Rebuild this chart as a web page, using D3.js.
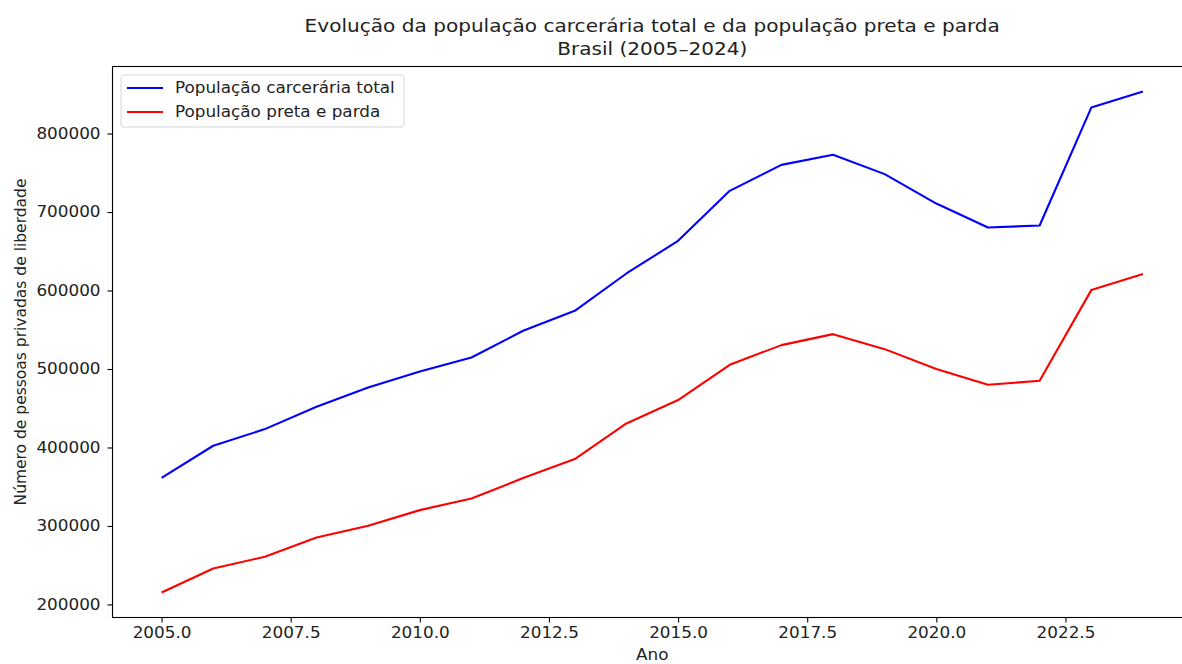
<!DOCTYPE html>
<html>
<head>
<meta charset="utf-8">
<script src="https://cdn.jsdelivr.net/npm/d3@7"></script>
<style>
  body { margin: 0; background: #fff; }
  svg { display: block; font-family: "DejaVu Sans", sans-serif; }
</style>
</head>
<body>
<svg id="chart" width="1182" height="664"></svg>
<script>
// values
const anos = [2005, 2006, 2007, 2008, 2009, 2010, 2011, 2012, 2013, 2014,
              2015, 2016, 2017, 2018, 2019, 2020, 2021, 2022, 2023, 2024];
const total = [361400, 402200, 423400, 451800, 476400, 496800, 514600, 548700, 574100, 621700,
               663300, 727000, 760100, 772900, 748300, 710800, 680300, 682800, 833100, 853500];
const pretaParda = [215300, 245900, 260800, 285400, 300300, 320200, 335000, 361000, 385200, 430600,
                    460400, 505400, 530400, 544400, 525300, 499900, 479900, 485000, 600500, 620900];
const xTicks = [2005, 2007.5, 2010, 2012.5, 2015, 2017.5, 2020, 2022.5];
const yTicks = [200000, 300000, 400000, 500000, 600000, 700000, 800000];
const series = [
  { name: "População carcerária total", values: total, color: "#0000ff" },
  { name: "População preta e parda", values: pretaParda, color: "#ff0000" }
];

const svg = d3.select("#chart");
const mLeft = 112.5, mRight = 1192, mTop = 66.5, mBottom = 617.5;
const stretch = "scale(1.085,1)"; // the reference text is a bit wider than tall

// matplotlib style 5% margins
const xMin = d3.min(anos), xMax = d3.max(anos);
const xPad = (xMax - xMin) * 0.05;
const allY = total.concat(pretaParda);
const yMin = d3.min(allY), yMax = d3.max(allY);
const yPad = (yMax - yMin) * 0.05;

const x = d3.scaleLinear().domain([xMin - xPad, xMax + xPad]).range([mLeft, mRight]);
const y = d3.scaleLinear().domain([yMin - yPad, yMax + yPad]).range([mBottom, mTop]);

// axes
const xAxis = svg.append("g")
  .attr("transform", `translate(0,${mBottom})`)
  .call(d3.axisBottom(x).tickValues(xTicks).tickFormat(d3.format(".1f")).tickSizeOuter(0).tickSize(5).tickPadding(5));
const yAxis = svg.append("g")
  .attr("transform", `translate(${mLeft},0)`)
  .call(d3.axisLeft(y).tickValues(yTicks).tickFormat(d3.format("d")).tickSizeOuter(0).tickSize(5).tickPadding(6));

[xAxis, yAxis].forEach(a => {
  a.select(".domain").remove();
  a.selectAll("line").attr("stroke", "#000").attr("stroke-width", 1.1);
  a.selectAll("text")
    .attr("fill", "#222")
    .attr("transform", stretch)
    .style("font-size", "15.5px")
    .style("font-family", "DejaVu Sans");
});

// spines
svg.append("rect")
  .attr("x", mLeft).attr("y", mTop)
  .attr("width", mRight - mLeft).attr("height", mBottom - mTop)
  .attr("fill", "none").attr("stroke", "#000").attr("stroke-width", 1.1);

// lines
const line = d3.line()
  .x((d, i) => x(anos[i]))
  .y(d => y(d));

svg.append("g").selectAll("path")
  .data(series)
  .enter()
  .append("path")
  .attr("d", d => line(d.values))
  .attr("fill", "none")
  .attr("stroke", d => d.color)
  .attr("stroke-width", 2.1)
  .attr("stroke-linejoin", "round");

// title
const title = svg.append("g")
  .attr("transform", `translate(${(mLeft + mRight) / 2},0) ${stretch}`)
  .append("text")
  .attr("text-anchor", "middle")
  .attr("fill", "#222")
  .style("font-size", "18.5px");
title.append("tspan").attr("x", 0).attr("y", 32)
  .text("Evolução da população carcerária total e da população preta e parda");
title.append("tspan").attr("x", 0).attr("y", 55)
  .text("Brasil (2005–2024)");

// axis labels
svg.append("text")
  .attr("transform", `translate(${(mLeft + mRight) / 2},660) ${stretch}`)
  .attr("text-anchor", "middle")
  .attr("fill", "#222")
  .style("font-size", "15.5px")
  .text("Ano");

svg.append("text")
  .attr("transform", `translate(26,${(mTop + mBottom) / 2}) rotate(-90)`)
  .attr("text-anchor", "middle")
  .attr("fill", "#222")
  .style("font-size", "15.5px")
  .text("Número de pessoas privadas de liberdade");

// legend
const legend = svg.append("g").attr("transform", "translate(121,75)");
legend.append("rect")
  .attr("width", 283).attr("height", 52)
  .attr("rx", 3)
  .attr("fill", "#fff").attr("fill-opacity", 0.8)
  .attr("stroke", "#d6d6d6");

const item = legend.selectAll("g.item")
  .data(series)
  .enter()
  .append("g")
  .attr("class", "item")
  .attr("transform", (d, i) => `translate(0,${13 + i * 24})`);
item.append("line")
  .attr("x1", 6).attr("x2", 42)
  .attr("stroke", d => d.color).attr("stroke-width", 2.1);
item.append("text")
  .attr("transform", `translate(54,0) ${stretch}`)
  .attr("dy", "0.35em")
  .attr("fill", "#222")
  .style("font-size", "15.5px")
  .text(d => d.name);
</script>
</body>
</html>
